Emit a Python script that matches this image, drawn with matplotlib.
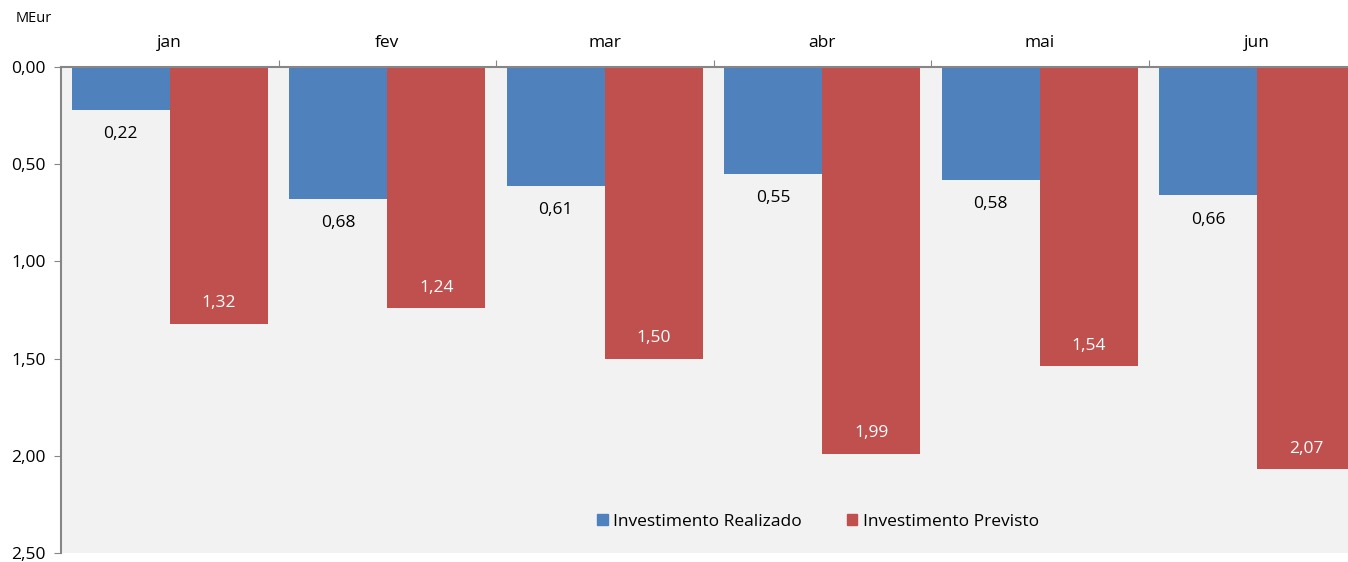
import numpy as np
import matplotlib.pyplot as plt
from matplotlib.patches import Patch

meses = ["jan", "fev", "mar", "abr", "mai", "jun"]
realizado = [0.22, 0.68, 0.61, 0.55, 0.58, 0.66]
previsto = [1.32, 1.24, 1.50, 1.99, 1.54, 2.07]
yticks = [0.0, 0.5, 1.0, 1.5, 2.0, 2.5]

azul = "#4F81BD"
vermelho = "#C0504D"
cinza = "#868686"

plt.rcParams['font.family'] = ['Open Sans', 'DejaVu Sans']

W, H = 1348, 562
fig = plt.figure(figsize=(W / 100, H / 100), dpi=100)
ax = fig.add_axes([61 / W, 9 / H, (W - 61) / W, (553 - 67) / H])
ax.set_facecolor("#F2F2F2")

x = np.arange(len(meses))
bw = 0.45
ax.bar(x - bw / 2, realizado, width=bw, color=azul, edgecolor="none")
ax.bar(x + bw / 2, previsto, width=bw, color=vermelho, edgecolor="none")

ax.set_ylim(2.5, 0)
ax.set_xlim(-0.5, 5.417)

fs = 12.5

# rotulos dos valores
for xi, v in zip(x, realizado):
    ax.text(xi - bw / 2, v + 0.125, f"{v:.2f}".replace(".", ","),
            ha="center", va="center", fontsize=fs, color="black")
for xi, v in zip(x, previsto):
    ax.text(xi + bw / 2, v - 0.105, f"{v:.2f}".replace(".", ","),
            ha="center", va="center", fontsize=fs, color="white")

# eixo y
ax.set_yticks(yticks)
ax.set_yticklabels([f"{t:.2f}".replace(".", ",") for t in yticks], fontsize=fs)
ax.tick_params(axis="y", direction="out", length=5, color=cinza, pad=6)

# eixo x no topo
ax.xaxis.tick_top()
ax.set_xticks(x[:-1] + 0.5)
ax.set_xticklabels([])
ax.tick_params(axis="x", direction="out", length=5, color=cinza)
for xi, m in zip(x, meses):
    ax.text(xi, 1.0 + 24 / 486, m, transform=ax.get_xaxis_transform(),
            ha="center", va="center", fontsize=fs)

for s in ["right", "bottom"]:
    ax.spines[s].set_visible(False)
for s in ["left", "top"]:
    ax.spines[s].set_color(cinza)
    ax.spines[s].set_linewidth(1.5)

fig.text(16 / W, 1 - 18 / H, "MEur", fontsize=10.5, va="center", ha="left")

handles = [Patch(color=azul, label="Investimento Realizado"),
           Patch(color=vermelho, label="Investimento Previsto")]
ax.legend(handles=handles, loc="center", bbox_to_anchor=((818 - 61) / (W - 61), (553 - 522) / 486),
          ncol=2, frameon=False, fontsize=fs, handlelength=0.6, handleheight=0.6,
          handletextpad=0.3, columnspacing=2.6)

fig.savefig("out.png", dpi=100)
